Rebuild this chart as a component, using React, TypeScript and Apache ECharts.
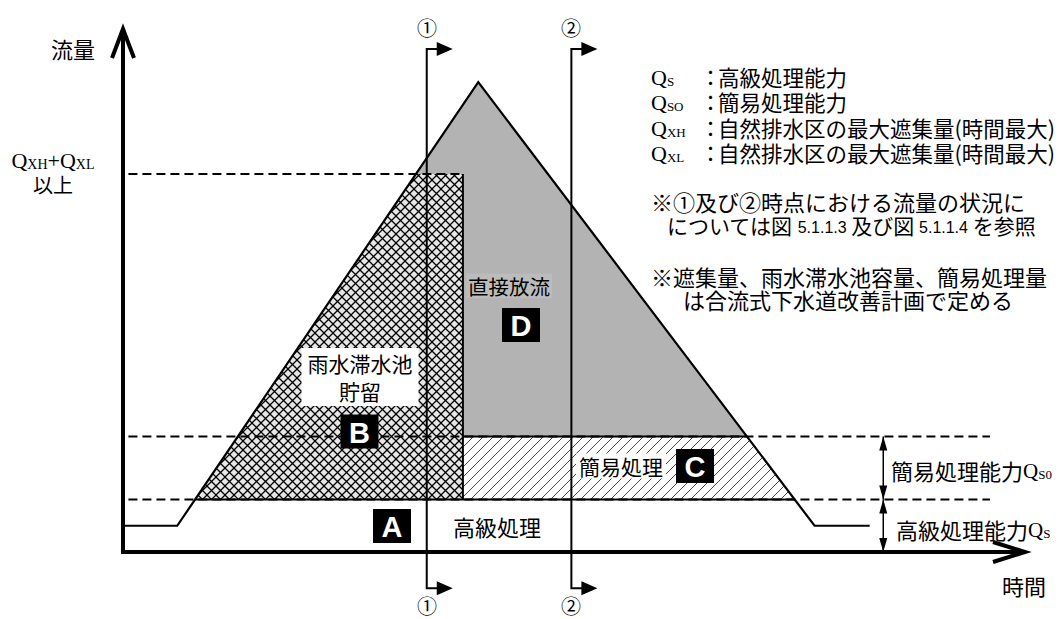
import React, { useEffect, useRef } from 'react';
import * as echarts from 'echarts';

// ---- data (time / flow units of the schematic hydrograph) ----
const hydroTime = [0, 6, 39.3, 76.5, 82.6];
const hydroFlow = [5, 5, 89.5, 5, 5];
const highCapacityLevel = 10;   // 高級処理能力 Qs
const simpleCapacityLevel = 22; // Qs + Qso
const storageLevel = 72;        // QXH + QXL 以上
const storageEndTime = 37.6;
const sectionTimes = [33.6, 49.6];
const sectionLabels = ['①', '②'];
const dashStartTime = 0.6;
const dashEndTime = 95.9;
const dimensionTime = 84.1;
const sectionTop = 95.8;
const sectionBottom = -6.9;
const axisTimeMax = 100;
const axisFlowMax = 100;

const legendSubs = ['S', 'SO', 'XH', 'XL'];
const legendTexts = ['高級処理能力', '簡易処理能力', '自然排水区の最大遮集量(時間最大)', '自然排水区の最大遮集量(時間最大)'];
const noteLines = [
  '{j|※①及び②時点における流量の状況に}',
  '{k|については図 }{n|5.1.1.3}{k| 及び図 }{n|5.1.1.4}{k| を参照}',
  '{j|※遮集量、雨水滞水池容量、簡易処理量}',
  '{j|は合流式下水道改善計画で定める}',
];

const JP = '"Noto Sans CJK JP", "Noto Sans", sans-serif';
const SERIF = '"Liberation Serif", "Times New Roman", serif';
const SANS = '"Liberation Sans", Arial, sans-serif';

function limbTime(level: number, i0: number, i1: number) {
  const t0 = hydroTime[i0], t1 = hydroTime[i1], f0 = hydroFlow[i0], f1 = hydroFlow[i1];
  return t0 + ((level - f0) / (f1 - f0)) * (t1 - t0);
}
const rise = (lv: number) => limbTime(lv, 1, 2);
const fall = (lv: number) => limbTime(lv, 2, 3);

function makeCross() {
  const s = 9;
  const cv = document.createElement('canvas');
  cv.width = s; cv.height = s;
  const g = cv.getContext('2d')!;
  g.fillStyle = '#e6e6e6';
  g.fillRect(0, 0, s, s);
  g.strokeStyle = '#000';
  g.lineWidth = 1.3;
  g.beginPath();
  g.moveTo(-1, -1); g.lineTo(s + 1, s + 1);
  g.moveTo(s + 1, -1); g.lineTo(-1, s + 1);
  g.stroke();
  return cv;
}
function makeDiag() {
  const s = 10;
  const cv = document.createElement('canvas');
  cv.width = s; cv.height = s;
  const g = cv.getContext('2d')!;
  g.fillStyle = '#fff';
  g.fillRect(0, 0, s, s);
  g.strokeStyle = '#333';
  g.lineWidth = 0.9;
  g.beginPath();
  g.moveTo(-1, s + 1); g.lineTo(s + 1, -1);
  g.moveTo(-1, 1); g.lineTo(1, -1);
  g.moveTo(s - 1, s + 1); g.lineTo(s + 1, s - 1);
  g.stroke();
  return cv;
}

function txt(x: number, y: number, text: string, size: number, extra: any = {}) {
  const align = extra.align || 'left';
  return {
    type: 'text', x, y, z: 100,
    style: {
      text, fontSize: size, fontFamily: JP, fill: '#000',
      align, textAlign: align, verticalAlign: 'middle', textVerticalAlign: 'middle',
      ...extra,
    },
  };
}

function letterBox(cx: number, cy: number, letter: string) {
  return {
    type: 'group', z: 100,
    children: [
      { type: 'rect', shape: { x: cx - 19, y: cy - 17, width: 38, height: 34 }, style: { fill: '#000' }, z: 100 },
      {
        type: 'text', x: cx, y: cy + 1, z: 101,
        style: { text: letter, fontSize: 29, fontWeight: 'bold', fontFamily: SANS, fill: '#fff', align: 'center', textAlign: 'center', verticalAlign: 'middle', textVerticalAlign: 'middle' },
      },
    ],
  };
}

export default function App() {
  const ref = useRef<HTMLDivElement>(null);
  useEffect(() => {
    document.body.style.margin = '0';
    const chart = echarts.init(ref.current!, null, { renderer: 'svg' });
    const cross = makeCross();
    const diag = makeDiag();
    const crossFill = { image: cross, repeat: 'repeat', imageWidth: 9, imageHeight: 9 };
    const diagFill = { image: diag, repeat: 'repeat', imageWidth: 10, imageHeight: 10 };

    const renderItem = (params: any, api: any) => {
      const c = (t: number, f: number) => api.coord([t, f]);
      const H = highCapacityLevel, S = simpleCapacityLevel, ST = storageLevel, E = storageEndTime;
      const peak = c(hydroTime[2], hydroFlow[2]);
      const solid = { stroke: '#000', lineWidth: 2 };
      const dash = { stroke: '#000', lineWidth: 2, lineDash: [9, 5] };
      const children: any[] = [];
      // D: direct discharge (gray)
      children.push({ type: 'polygon', shape: { points: [c(rise(S), S), peak, c(fall(S), S)] }, style: { fill: '#b3b3b3' } });
      // B: storage (cross hatch)
      children.push({ type: 'polygon', shape: { points: [c(rise(H), H), c(rise(ST), ST), c(E, ST), c(E, H)] }, style: { fill: crossFill } });
      // C: simple treatment (diagonal hatch)
      children.push({ type: 'polygon', shape: { points: [c(E, H), c(E, S), c(fall(S), S), c(fall(H), H)] }, style: { fill: diagFill } });
      // dashed levels
      const dl = (t1: number, t2: number, f: number) => {
        const a = c(t1, f), b = c(t2, f);
        return { type: 'line', shape: { x1: a[0], y1: a[1], x2: b[0], y2: b[1] }, style: dash };
      };
      children.push(dl(dashStartTime, E, ST));
      children.push(dl(dashStartTime, dashEndTime, S));
      children.push(dl(dashStartTime, dashEndTime, H));
      // solid region borders
      const sl = (p: number[], q: number[], st: any = solid) => ({ type: 'line', shape: { x1: p[0], y1: p[1], x2: q[0], y2: q[1] }, style: st });
      children.push(sl(c(rise(H), H), c(fall(H), H)));
      children.push(sl(c(E, S), c(fall(S), S)));
      children.push(sl(c(E, H), c(E, ST)));
      // hydrograph
      children.push({ type: 'polyline', shape: { points: hydroTime.map((t, i) => c(t, hydroFlow[i])) }, style: { stroke: '#000', lineWidth: 2.2, fill: null } });
      // axes
      const o = c(0, 0), yt = c(0, axisFlowMax), xt = c(axisTimeMax, 0);
      const ax = { stroke: '#000', lineWidth: 4, fill: null };
      children.push({ type: 'line', shape: { x1: o[0], y1: o[1] + 2, x2: yt[0], y2: yt[1] + 2 }, style: ax });
      children.push({ type: 'polyline', shape: { points: [[yt[0] - 11, yt[1] + 31], [yt[0], yt[1] + 2], [yt[0] + 11, yt[1] + 31]] }, style: ax });
      children.push({ type: 'line', shape: { x1: o[0] - 2, y1: o[1], x2: xt[0] - 2, y2: xt[1] }, style: ax });
      children.push({ type: 'polyline', shape: { points: [[xt[0] - 34, xt[1] - 10], [xt[0] - 2, xt[1]], [xt[0] - 34, xt[1] + 10]] }, style: ax });
      // section lines
      sectionTimes.forEach((t) => {
        const top = c(t, sectionTop), bot = c(t, sectionBottom);
        children.push({ type: 'polyline', shape: { points: [[top[0] + 11, top[1]], top, bot, [bot[0] + 11, bot[1]]] }, style: { stroke: '#000', lineWidth: 2, fill: null } });
        [top, bot].forEach((p) => {
          children.push({ type: 'polygon', shape: { points: [[p[0] + 10, p[1] - 7], [p[0] + 26, p[1]], [p[0] + 10, p[1] + 7]] }, style: { fill: '#000' } });
        });
      });
      // dimension arrows
      const dimArrow = (f1: number, f2: number) => {
        const a = c(dimensionTime, f1), b = c(dimensionTime, f2);
        children.push(sl(a, b, { stroke: '#000', lineWidth: 1.5 }));
        children.push({ type: 'polygon', shape: { points: [[a[0], a[1]], [a[0] - 4, a[1] + 14], [a[0] + 4, a[1] + 14]] }, style: { fill: '#000' } });
        children.push({ type: 'polygon', shape: { points: [[b[0], b[1]], [b[0] - 4, b[1] - 14], [b[0] + 4, b[1] - 14]] }, style: { fill: '#000' } });
      };
      dimArrow(S, H);
      dimArrow(H, 0);
      return { type: 'group', children };
    };

    const legendGraphics: any[] = [];
    const legendY = [76, 101, 127, 152];
    legendSubs.forEach((s, i) => {
      legendGraphics.push({
        type: 'text', x: 651, y: legendY[i], z: 100,
        style: {
          text: `{q|Q}{s|${s}}`, fill: '#000', verticalAlign: 'middle', textVerticalAlign: 'middle',
          rich: {
            q: { fontFamily: SERIF, fontSize: 22, lineHeight: 24, verticalAlign: 'bottom' },
            s: { fontFamily: SERIF, fontSize: 13, lineHeight: 20, verticalAlign: 'bottom' },
          },
        },
      });
      legendGraphics.push(txt(700, legendY[i], '：', 21, { lineHeight: 23 }));
      legendGraphics.push(txt(718, legendY[i], legendTexts[i], 21.5, { lineHeight: 23 }));
    });

    const noteX = [651, 667, 651, 683];
    const noteY = [201, 224, 276, 299];
    const notes = noteLines.map((l, i) => ({
      type: 'text', x: noteX[i], y: noteY[i], z: 100,
      style: {
        text: l, fill: '#000', verticalAlign: 'middle', textVerticalAlign: 'middle',
        rich: {
          j: { fontFamily: JP, fontSize: 22, lineHeight: 22, verticalAlign: 'bottom' },
          k: { fontFamily: JP, fontSize: 21, lineHeight: 22, verticalAlign: 'bottom' },
          n: { fontFamily: SANS, fontSize: 16, lineHeight: 22, verticalAlign: 'bottom', padding: [3, 0, 0, 0] },
        },
      },
    }));

    const sectionGraphics: any[] = [];
    const sectionPx = [427, 571];
    sectionLabels.forEach((l, i) => {
      sectionGraphics.push(txt(sectionPx[i], 27, l, 20, { align: 'center' }));
      sectionGraphics.push(txt(sectionPx[i], 605, l, 20, { align: 'center' }));
    });

    chart.setOption({
      animation: false,
      backgroundColor: '#fff',
      grid: { left: 123, right: 37, top: 27, bottom: 14.5 },
      xAxis: { type: 'value', min: 0, max: axisTimeMax, show: false },
      yAxis: { type: 'value', min: -10, max: axisFlowMax, show: false },
      series: [
        { type: 'custom', renderItem, data: [[0, 0]], silent: true, clip: false, z: 2 },
      ],
      graphic: [
        txt(73, 48, '流量', 22, { align: 'center' }),
        txt(1024, 585, '時間', 22, { align: 'center' }),
        {
          type: 'text', x: 53, y: 159, z: 100,
          style: {
            text: '{q|Q}{s|XH}{q|+Q}{s|XL}', fill: '#000', align: 'center', textAlign: 'center', verticalAlign: 'middle', textVerticalAlign: 'middle',
            rich: {
              q: { fontFamily: SERIF, fontSize: 22, lineHeight: 24, verticalAlign: 'bottom' },
              s: { fontFamily: SERIF, fontSize: 14, lineHeight: 12, verticalAlign: 'bottom' },
            },
          },
        },
        txt(53, 184, '以上', 20, { align: 'center' }),
        ...legendGraphics,
        ...notes,
        ...sectionGraphics,
        txt(509, 286, '直接放流', 20.5, { align: 'center', backgroundColor: '#bcbcbc', padding: [2, 2] }),
        txt(360, 377, '雨水滞水池\n貯留', 21, { align: 'center', backgroundColor: '#fff', lineHeight: 28, padding: [1, 6] }),
        txt(497, 526, '高級処理', 22, { align: 'center' }),
        txt(621, 466, '簡易処理', 21, { align: 'center', backgroundColor: '#fff', padding: [2, 3] }),
        letterBox(392, 526, 'A'),
        letterBox(359.5, 431.5, 'B'),
        letterBox(695, 466, 'C'),
        letterBox(521, 325, 'D'),
        {
          type: 'text', x: 891, y: 468, z: 100,
          style: {
            text: '{j|簡易処理能力}{q|Q}{s|S0}', fill: '#000', verticalAlign: 'middle', textVerticalAlign: 'middle',
            rich: {
              j: { fontFamily: JP, fontSize: 22, lineHeight: 26, verticalAlign: 'bottom' },
              q: { fontFamily: SERIF, fontSize: 21, lineHeight: 26, verticalAlign: 'bottom' },
              s: { fontFamily: SERIF, fontSize: 13, lineHeight: 21, verticalAlign: 'bottom' },
            },
          },
        },
        {
          type: 'text', x: 896, y: 527, z: 100,
          style: {
            text: '{j|高級処理能力}{q|Q}{s|S}', fill: '#000', verticalAlign: 'middle', textVerticalAlign: 'middle',
            rich: {
              j: { fontFamily: JP, fontSize: 22, lineHeight: 26, verticalAlign: 'bottom' },
              q: { fontFamily: SERIF, fontSize: 21, lineHeight: 26, verticalAlign: 'bottom' },
              s: { fontFamily: SERIF, fontSize: 13, lineHeight: 21, verticalAlign: 'bottom' },
            },
          },
        },
      ],
    });
    return () => chart.dispose();
  }, []);
  return <div ref={ref} style={{ width: 1064, height: 619 }} />;
}
